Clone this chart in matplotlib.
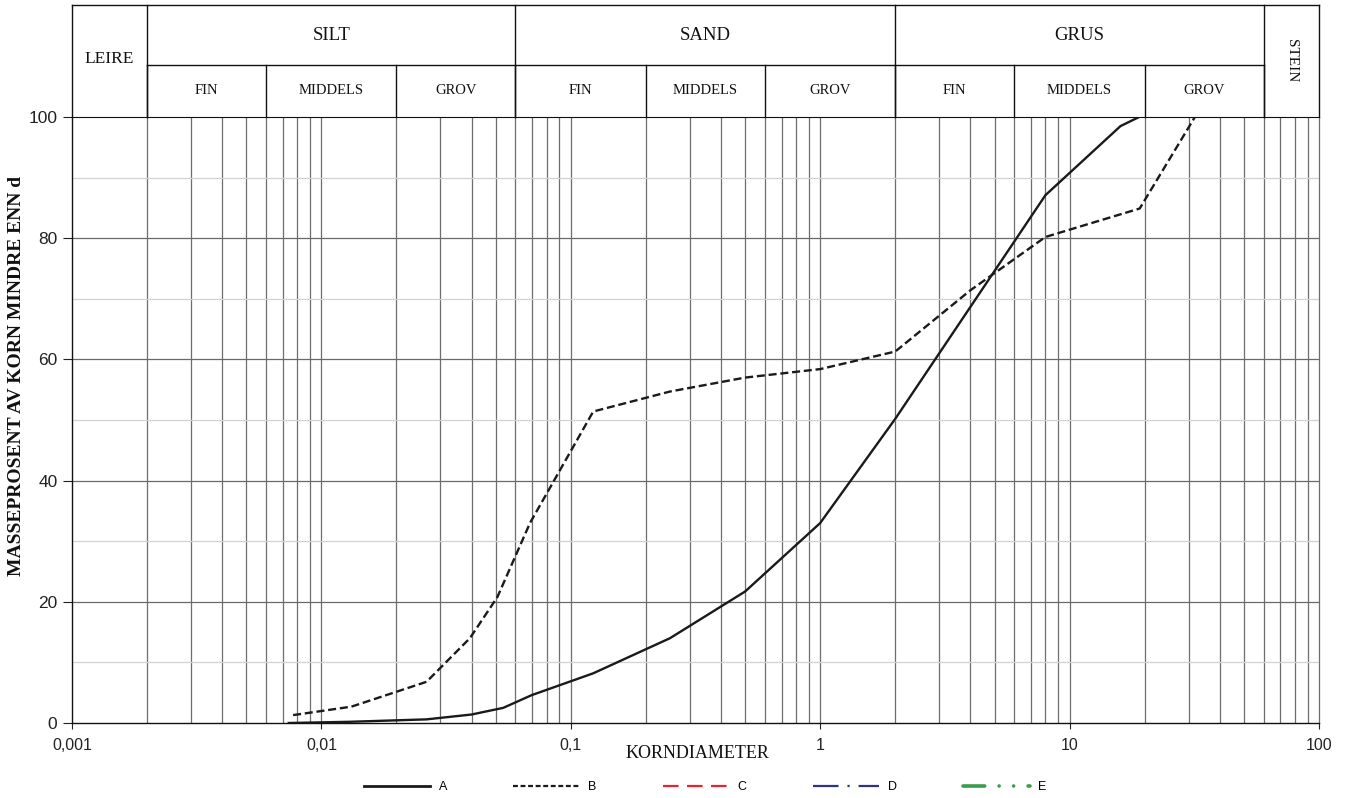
import matplotlib.pyplot as plt
from matplotlib.lines import Line2D
import numpy as np

# sieve curves (grain size in mm, percent passing)
size_a = [0.0074, 0.013, 0.0264, 0.040, 0.0536, 0.0697, 0.123, 0.25, 0.5, 1.0, 2.0, 8.0, 16.0, 19.0]
pass_a = [0.0, 0.2, 0.6, 1.4, 2.5, 4.6, 8.2, 14.0, 21.7, 33.0, 50.2, 87.1, 98.5, 100.0]

size_b = [0.0077, 0.0132, 0.0264, 0.0394, 0.0508, 0.0686, 0.123, 0.25, 0.5, 1.0, 2.0, 4.0, 8.0, 19.1, 31.8]
pass_b = [1.3, 2.7, 6.8, 14.0, 20.8, 33.0, 51.4, 54.7, 57.0, 58.4, 61.3, 71.4, 80.2, 84.9, 100.0]

series_names = ['A', 'B', 'C', 'D', 'E']

# soil class boundaries (mm)
main_classes = ['SILT', 'SAND', 'GRUS']
main_bounds = [0.002, 0.06, 2, 60]
sub_classes = ['FIN', 'MIDDELS', 'GROV'] * 3
sub_bounds = [0.002, 0.006, 0.02, 0.06, 0.2, 0.6, 2, 6, 20, 60]

x_ticks = [0.001, 0.01, 0.1, 1, 10, 100]
x_tick_labels = ['0,001', '0,01', '0,1', '1', '10', '100']
y_ticks = [0, 20, 40, 60, 80, 100]

serif = 'Liberation Serif'
sans = 'Liberation Sans'

fig = plt.figure(figsize=(13.52, 7.98), dpi=100)
ax = fig.add_axes([72 / 1352, 1 - 723 / 798, 1247 / 1352, 606 / 798])
ax.set_xscale('log')
ax.set_xlim(0.001, 100)
ax.set_ylim(0, 100)

# grid lines
for k in range(-3, 2):
    for m in range(1, 10):
        v = m * 10.0 ** k
        if v <= 0.001:
            continue
        ax.axvline(v, color='#6e6e6e', lw=0.9, zorder=1)
for v in [10, 30, 50, 70, 90]:
    ax.axhline(v, color='#d2d2d2', lw=0.9, zorder=1)
for v in [20, 40, 60, 80]:
    ax.axhline(v, color='#6a6a6a', lw=0.9, zorder=1)

ax.plot(size_a, pass_a, color='#1a1a1a', lw=1.7, zorder=3)
ax.plot(size_b, pass_b, color='#1a1a1a', lw=1.7, linestyle=(0, (3.4, 1.6)), zorder=3)

ax.set_xticks(x_ticks)
ax.set_xticklabels(x_tick_labels)
ax.xaxis.set_minor_locator(plt.NullLocator())
ax.set_yticks(y_ticks)
ax.tick_params(axis='x', length=4, width=0.8, pad=7, labelsize=11.5, colors='#222222')
ax.tick_params(axis='y', length=6.5, width=0.8, pad=4, labelsize=12.5, colors='#222222')
for lab in ax.get_xticklabels() + ax.get_yticklabels():
    lab.set_fontfamily(sans)

for s in ['left', 'bottom']:
    ax.spines[s].set_color('#111111')
    ax.spines[s].set_linewidth(1.0)
ax.spines['right'].set_color('#6e6e6e')
ax.spines['right'].set_linewidth(0.9)
ax.spines['top'].set_color('#111111')

# classification header above the plot
tr = ax.get_xaxis_transform()
y_top = (723 - 5) / 606
y_mid = (723 - 65) / 606
hdr = dict(transform=tr, clip_on=False, color='#111111', lw=1.0)
ax.plot([0.001, 100], [y_top, y_top], **hdr)
ax.plot([0.001, 0.001], [1, y_top], **hdr)
ax.plot([100, 100], [1, y_top], **hdr)
ax.plot([main_bounds[0], main_bounds[-1]], [y_mid, y_mid], **hdr)
for b in main_bounds:
    ax.plot([b, b], [1, y_top], **hdr)
for b in sub_bounds:
    ax.plot([b, b], [1, y_mid], **hdr)

for i, name in enumerate(main_classes):
    xc = np.sqrt(main_bounds[i] * main_bounds[i + 1])
    ax.text(xc, (y_top + y_mid) / 2, name, transform=tr, ha='center', va='center',
            fontsize=13.5, family=serif, color='#111111')
for i, name in enumerate(sub_classes):
    xc = np.sqrt(sub_bounds[i] * sub_bounds[i + 1])
    ax.text(xc, (1 + y_mid) / 2, name, transform=tr, ha='center', va='center',
            fontsize=10.5, family=serif, color='#111111')
ax.text(np.sqrt(0.001 * 0.002), (1 + y_top) / 2 + 0.004, 'LEIRE', transform=tr, ha='center',
        va='center', fontsize=12.5, family=serif, color='#111111')
ax.text(np.sqrt(60 * 100), (1 + y_top) / 2, 'STEIN', transform=tr, ha='center',
        va='center', fontsize=11, family=serif, rotation=270, color='#111111')

# axis titles
fig.text(697 / 1352, 1 - 753 / 798, 'KORNDIAMETER', ha='center', va='center',
         fontsize=13, family=serif, color='#111111')
fig.text(17 / 1352, 1 - 376 / 798, 'MASSEPROSENT AV KORN MINDRE ENN d', ha='center',
         va='center', rotation=90, fontsize=14, family=serif, fontweight='bold',
         color='#111111')

# legend
handles = [
    Line2D([], [], color='#1a1a1a', lw=2.0),
    Line2D([], [], color='#1a1a1a', lw=1.6, linestyle=(0, (2.2, 1.2))),
    Line2D([], [], color='#e8232b', lw=1.6, linestyle=(0, (7.0, 3.8))),
    Line2D([], [], color='#2b3580', lw=1.6, linestyle=(0, (11.5, 4.0, 1.0, 4.0))),
    Line2D([], [], color='#3d9b4c', lw=2.6, dash_capstyle='round',
           linestyle=(0, (6.0, 4.0, 0.01, 4.0, 0.01, 4.0))),
]
fig.legend(handles, series_names, loc='center', bbox_to_anchor=(705 / 1352, 1 - 787 / 798),
           ncol=5, frameon=False, handlelength=5.3, handletextpad=0.7, columnspacing=5.3,
           prop={'family': sans, 'size': 9})

fig.savefig('out.png', dpi=100)
